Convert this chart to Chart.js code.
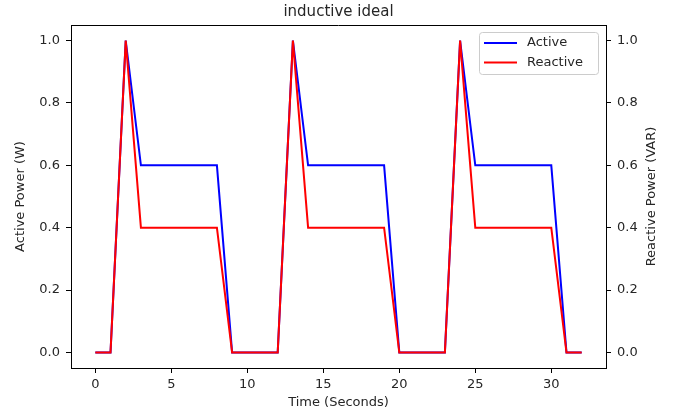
<!DOCTYPE html>
<html>
<head>
<meta charset="utf-8">
<script src="https://cdn.jsdelivr.net/npm/chart.js@4.4.0/dist/chart.umd.min.js"></script>
<style>
  html, body { margin: 0; padding: 0; background: #fff; }
</style>
</head>
<body>
<canvas id="chart" width="679" height="417"></canvas>
<script>
const chartTitle = 'inductive ideal';
const seriesLabels = ['Active', 'Reactive'];
const seconds = [0, 1, 2, 3, 4, 5, 6, 7, 8, 9, 10, 11, 12, 13, 14, 15, 16,
                 17, 18, 19, 20, 21, 22, 23, 24, 25, 26, 27, 28, 29, 30, 31, 32];
const activePower = [0, 0, 1.0, 0.6, 0.6, 0.6, 0.6, 0.6, 0.6, 0, 0, 0, 0, 1.0, 0.6, 0.6, 0.6,
                     0.6, 0.6, 0.6, 0, 0, 0, 0, 1.0, 0.6, 0.6, 0.6, 0.6, 0.6, 0.6, 0, 0];
const reactivePower = [0, 0, 1.0, 0.4, 0.4, 0.4, 0.4, 0.4, 0.4, 0, 0, 0, 0, 1.0, 0.4, 0.4, 0.4,
                       0.4, 0.4, 0.4, 0, 0, 0, 0, 1.0, 0.4, 0.4, 0.4, 0.4, 0.4, 0.4, 0, 0];
const xTicks = [0, 5, 10, 15, 20, 25, 30];
const yTicks = [0.0, 0.2, 0.4, 0.6, 0.8, 1.0];

const fontFamily = '"DejaVu Sans", sans-serif';
const textColor = '#262626';

function toPoints(values) {
    return values.map((v, i) => ({ x: seconds[i], y: v }));
}

function fixedTicks(list) {
    return function (scale) {
        scale.ticks = list.map(v => ({ value: v }));
    };
}

// matplotlib style extras: top spine, title, right label, legend box
const mplExtras = {
    id: 'mplExtras',
    afterDraw(chart) {
        const ctx = chart.ctx;
        const area = chart.chartArea;
        ctx.save();

        ctx.strokeStyle = '#000';
        ctx.lineWidth = 1;
        ctx.beginPath();
        ctx.moveTo(area.left, area.top + 0.5);
        ctx.lineTo(area.right, area.top + 0.5);
        ctx.stroke();

        ctx.fillStyle = textColor;
        ctx.font = '15px ' + fontFamily;
        ctx.textAlign = 'center';
        ctx.textBaseline = 'middle';
        ctx.fillText(chartTitle, (area.left + area.right) / 2, 12);

        ctx.font = '13px ' + fontFamily;
        ctx.translate(652, (area.top + area.bottom) / 2);
        ctx.rotate(-Math.PI / 2);
        ctx.fillText('Reactive Power (VAR)', 0, 0);
        ctx.restore();

        // legend
        ctx.save();
        const bx = area.right - 127, by = area.top + 7, bw = 119, bh = 42;
        ctx.fillStyle = 'rgba(255,255,255,0.8)';
        ctx.strokeStyle = '#cccccc';
        ctx.lineWidth = 1;
        ctx.beginPath();
        ctx.roundRect(bx + 0.5, by + 0.5, bw, bh, 3);
        ctx.fill();
        ctx.stroke();
        ctx.font = '13px ' + fontFamily;
        ctx.textAlign = 'left';
        ctx.textBaseline = 'middle';
        chart.data.datasets.forEach((ds, i) => {
            const y = by + 11 + i * 19.5;
            ctx.strokeStyle = ds.borderColor;
            ctx.lineWidth = 2;
            ctx.beginPath();
            ctx.moveTo(bx + 5, y);
            ctx.lineTo(bx + 38, y);
            ctx.stroke();
            ctx.fillStyle = textColor;
            ctx.fillText(ds.label, bx + 48, y);
        });
        ctx.restore();
    }
};

const axisGrid = {
    drawOnChartArea: false,
    drawTicks: true,
    tickLength: 5,
    tickColor: '#000',
    color: '#000'
};
const axisBorder = { display: true, color: '#000', width: 1 };
const tickFont = { family: fontFamily, size: 13 };

new Chart(document.getElementById('chart'), {
    type: 'line',
    data: {
        datasets: [{
            label: seriesLabels[0],
            data: toPoints(activePower),
            borderColor: '#0000ff',
            borderWidth: 2,
            pointRadius: 0,
            tension: 0,
            yAxisID: 'y',
            order: 1
        }, {
            label: seriesLabels[1],
            data: toPoints(reactivePower),
            borderColor: '#ff0000',
            borderWidth: 2,
            pointRadius: 0,
            tension: 0,
            yAxisID: 'y1',
            order: 0
        }]
    },
    options: {
        responsive: false,
        animation: false,
        devicePixelRatio: 1,
        layout: { padding: { top: 25, left: 0, right: 0, bottom: 0 } },
        plugins: {
            legend: { display: false },
            title: { display: false },
            tooltip: { enabled: false }
        },
        scales: {
            x: {
                type: 'linear',
                min: -1.6,
                max: 33.6,
                afterBuildTicks: fixedTicks(xTicks),
                afterFit: scale => { scale.height = 49; },
                grid: axisGrid,
                border: axisBorder,
                ticks: { font: tickFont, color: textColor, padding: 4, maxRotation: 0 },
                title: {
                    display: true,
                    text: 'Time (Seconds)',
                    font: tickFont,
                    color: textColor,
                    padding: { top: 0, bottom: 7 }
                }
            },
            y: {
                position: 'left',
                min: -0.05,
                max: 1.05,
                afterBuildTicks: fixedTicks(yTicks),
                afterFit: scale => { scale.width = 71; },
                grid: axisGrid,
                border: axisBorder,
                ticks: { font: tickFont, color: textColor, padding: 6, callback: v => v.toFixed(1) },
                title: {
                    display: true,
                    text: 'Active Power (W)',
                    font: tickFont,
                    color: textColor,
                    padding: { top: 13, bottom: 0 }
                }
            },
            y1: {
                position: 'right',
                min: -0.05,
                max: 1.05,
                afterBuildTicks: fixedTicks(yTicks),
                afterFit: scale => { scale.width = 73; },
                grid: axisGrid,
                border: axisBorder,
                ticks: { font: tickFont, color: textColor, padding: 6, callback: v => v.toFixed(1) }
            }
        }
    },
    plugins: [mplExtras]
});
</script>
</body>
</html>
